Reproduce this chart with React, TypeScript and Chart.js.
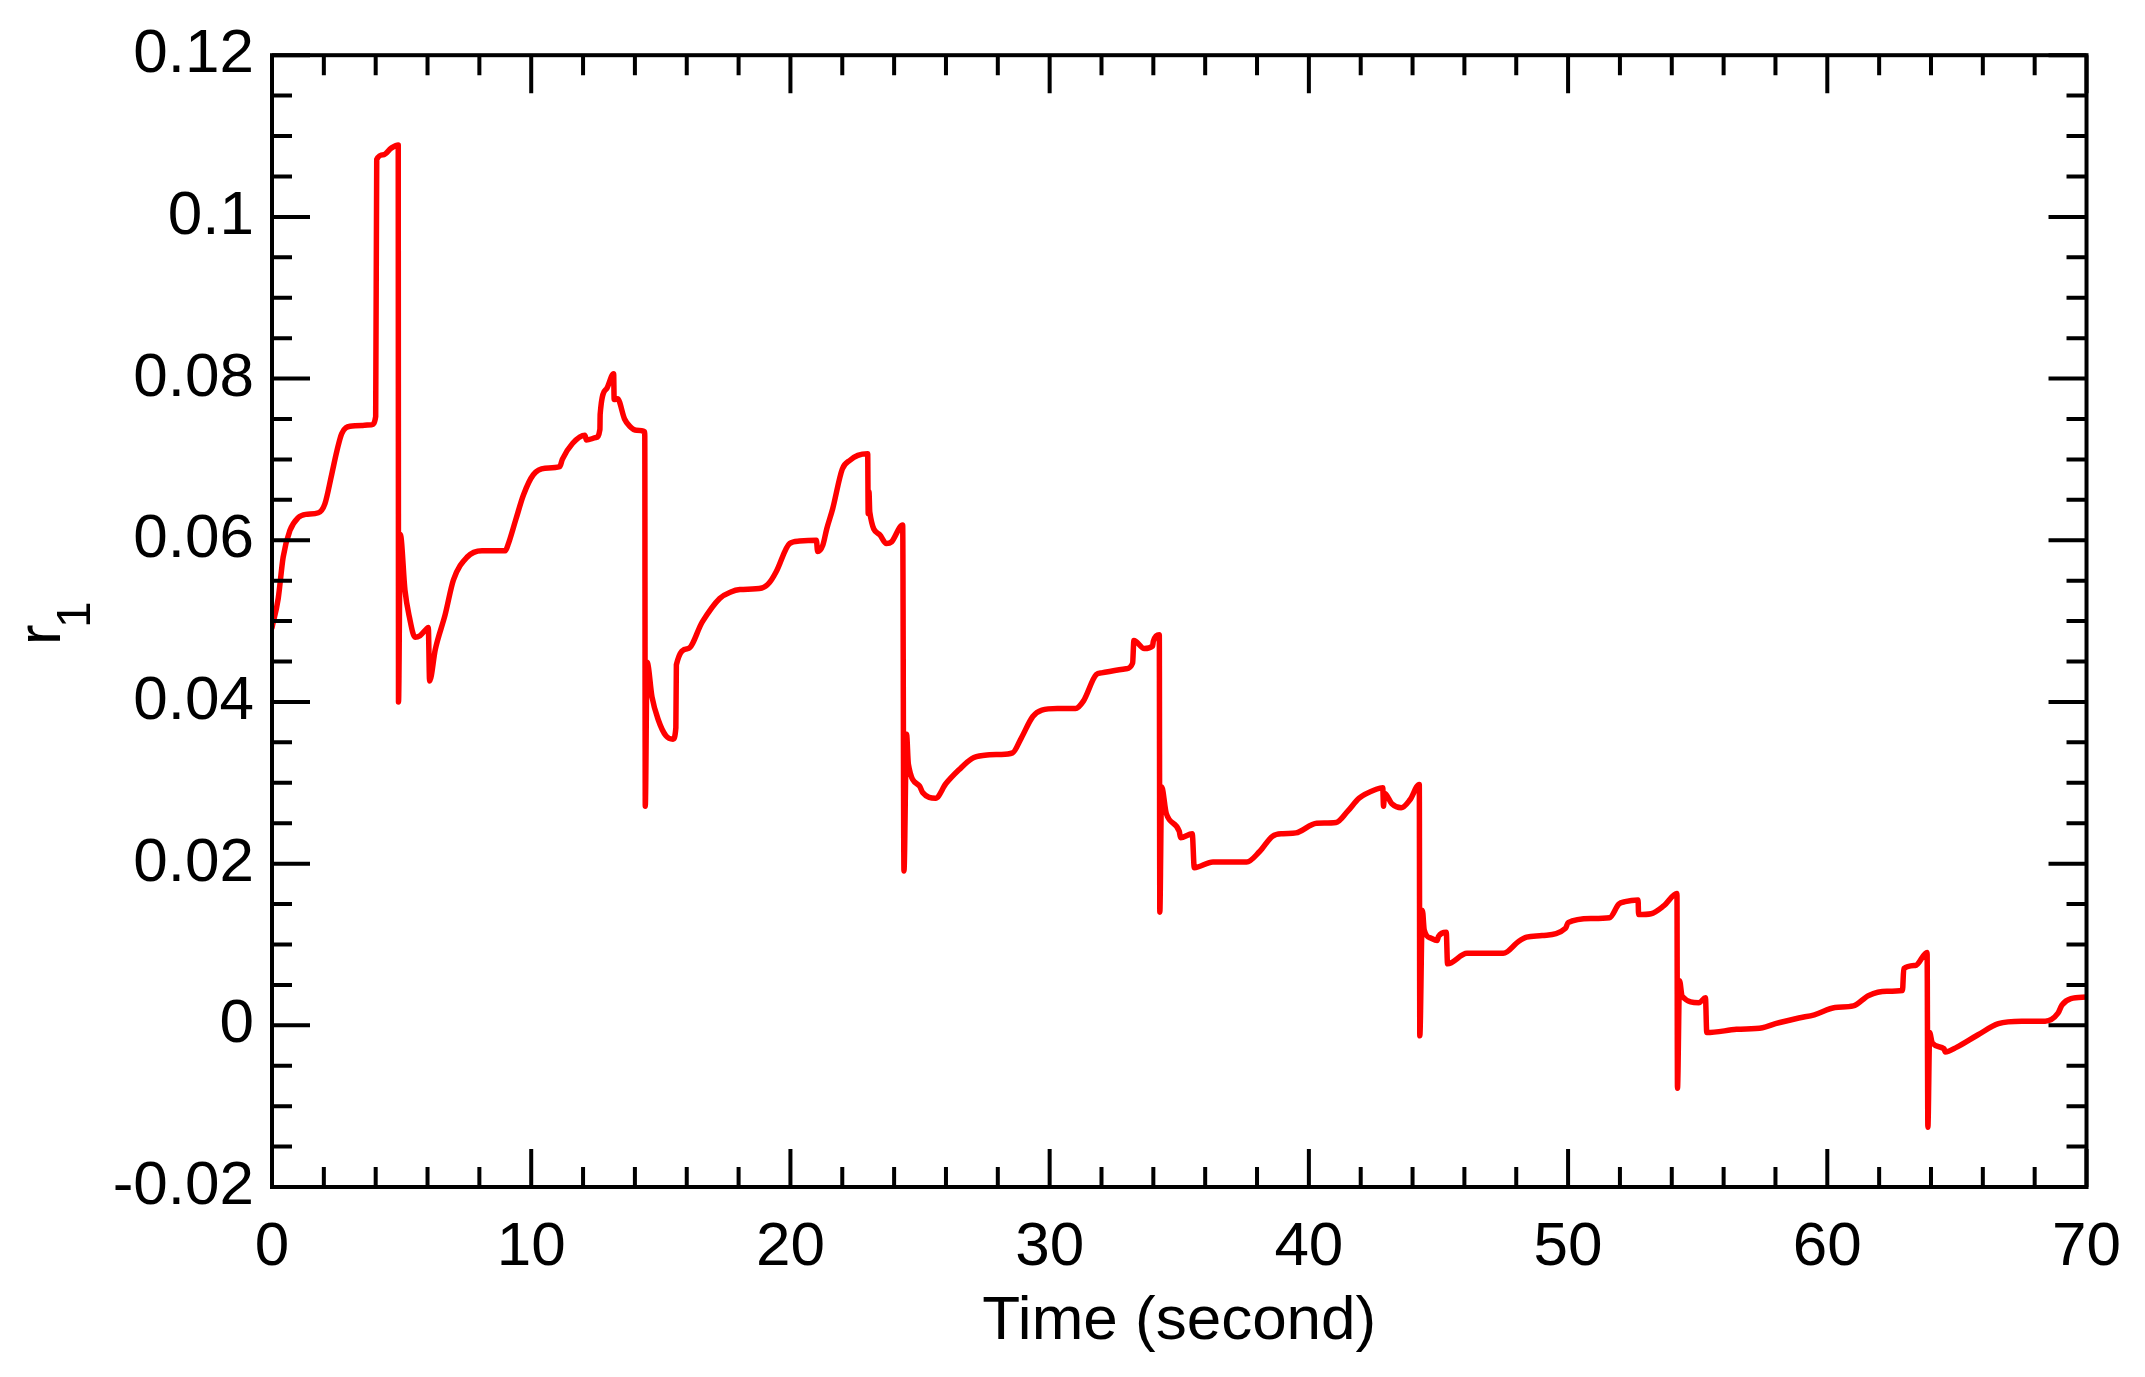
import React, { useEffect, useRef } from "react";
import { Chart, registerables } from "chart.js";

Chart.register(...registerables);

// ---- data (time in seconds, r1 values) ----
const time = [
  0, 0.24, 0.43, 0.69, 1.01, 1.3, 1.79, 2.04, 2.3, 2.5, 2.69, 3.01, 3.5, 3.85, 4.0,
  4.04, 4.3, 4.6, 4.87, 4.88, 4.95, 5.13, 5.3, 5.52, 5.71, 5.95, 6.03, 6.08, 6.3, 6.68,
  7.0, 7.52, 8.1, 9.0, 9.1, 9.4, 9.7, 10.08, 10.53, 11.1, 11.2, 11.6, 12.07, 12.13, 12.5,
  12.65, 12.66, 12.9, 13.18, 13.2, 13.33, 13.6, 13.8, 14.06, 14.38, 14.4, 14.47, 14.66, 14.9, 15.2,
  15.47, 15.58, 15.6, 16.05, 16.6, 17.27, 17.7, 18.05, 18.9, 19.2, 19.45, 19.97, 20.35, 21.0, 21.05,
  21.25, 21.4, 21.63, 22.0, 22.3, 22.6, 22.98, 23.0, 23.03, 23.06, 23.44, 23.7, 23.9, 24.33, 24.38,
  24.48, 24.55, 24.98, 25.1, 25.6, 26.0, 26.5, 27.0, 27.5, 28.07, 28.57, 28.9, 29.35, 29.7, 30.3,
  31.0, 31.3, 31.8, 32.0, 32.95, 33.2, 33.25, 33.65, 33.97, 34.0, 34.23, 34.25, 34.32, 34.5, 35.0,
  35.05, 35.5, 35.58, 36.3, 37.6, 38.1, 38.6, 39.0, 39.5, 40.3, 41.05, 41.5, 41.94, 42.6, 42.85,
  42.88, 42.92, 43.2, 43.56, 43.9, 44.26, 44.28, 44.38, 44.45, 44.7, 44.95, 45.0, 45.3, 45.35, 46.1,
  47.5, 48.1, 48.4, 49.0, 49.9, 50.0, 50.9, 51.6, 51.96, 52.2, 52.7, 52.72, 53.2, 53.7, 54.2,
  54.22, 54.3, 54.4, 55.05, 55.3, 55.35, 56.5, 57.5, 58.0, 58.9, 59.5, 60.3, 61.0, 61.6, 62.3,
  62.9, 62.95, 63.4, 63.85, 63.88, 63.95, 64.05, 64.5, 64.55, 65.0, 65.8, 66.6, 67.5, 68.4, 68.9,
  69.05, 69.4, 70.0,
];

const r1 = [
  0.0492, 0.0528, 0.0579, 0.0612, 0.0628, 0.0632, 0.0634, 0.0645, 0.0681, 0.071, 0.0732, 0.0741, 0.0742, 0.0743, 0.0753,
  0.1071, 0.1077, 0.1085, 0.1089, 0.04, 0.0607, 0.0538, 0.0505, 0.048, 0.0482, 0.049, 0.0492, 0.0426, 0.0465, 0.0508,
  0.0551, 0.0579, 0.0587, 0.0587, 0.0594, 0.0625, 0.0656, 0.0681, 0.0689, 0.0691, 0.07, 0.072, 0.073, 0.0724, 0.0727,
  0.0737, 0.0756, 0.0787, 0.0806, 0.0774, 0.0775, 0.075, 0.0741, 0.0736, 0.0734, 0.0271, 0.0449, 0.0406, 0.0378, 0.0358,
  0.0354, 0.0368, 0.0446, 0.0466, 0.0499, 0.0528, 0.0536, 0.0539, 0.0541, 0.0548, 0.0561, 0.0596, 0.0599, 0.06, 0.0586,
  0.0594, 0.0614, 0.0639, 0.0688, 0.0699, 0.0705, 0.0707, 0.0633, 0.066, 0.0635, 0.0607, 0.0596, 0.0598, 0.0619, 0.0191,
  0.036, 0.0323, 0.0296, 0.0288, 0.0281, 0.0299, 0.0316, 0.033, 0.0334, 0.0335, 0.0337, 0.0355, 0.0382, 0.039, 0.0392,
  0.0392, 0.0401, 0.0434, 0.0436, 0.0441, 0.0448, 0.0476, 0.0466, 0.0469, 0.0475, 0.0483, 0.014, 0.0295, 0.0262, 0.024,
  0.0232, 0.0237, 0.0195, 0.0202, 0.0202, 0.0215, 0.0234, 0.0237, 0.0238, 0.025, 0.0251, 0.0265, 0.0281, 0.0292, 0.0294,
  0.0271, 0.0287, 0.0274, 0.0269, 0.0279, 0.0298, -0.0013, 0.0142, 0.0118, 0.0108, 0.0105, 0.011, 0.0115, 0.0076, 0.0089,
  0.0089, 0.0104, 0.0109, 0.0111, 0.012, 0.0127, 0.0132, 0.0133, 0.015, 0.0153, 0.0155, 0.0137, 0.0138, 0.0148, 0.0163,
  -0.0078, 0.0055, 0.0036, 0.0028, 0.0034, -0.0009, -0.0005, -0.0003, 0.0002, 0.0009, 0.0013, 0.0022, 0.0024, 0.0037, 0.0042,
  0.0043, 0.007, 0.0074, 0.009, -0.0126, -0.0009, -0.0022, -0.0029, -0.0033, -0.0027, -0.0012, 0.0002, 0.0005, 0.0005, 0.0015,
  0.0025, 0.0033, 0.0035,
];

const xTickValues = [0, 10, 20, 30, 40, 50, 60, 70];
const xTickLabels = ["0", "10", "20", "30", "40", "50", "60", "70"];
const yTickValues = [-0.02, 0, 0.02, 0.04, 0.06, 0.08, 0.1, 0.12];
const yTickLabels = ["-0.02", "0", "0.02", "0.04", "0.06", "0.08", "0.1", "0.12"];
const xMinorTicks = [2, 4, 6, 8, 12, 14, 16, 18, 22, 24, 26, 28, 32, 34, 36, 38, 42, 44, 46, 48, 52, 54, 56, 58, 62, 64, 66, 68];
const yMinorTicks = [
  -0.015, -0.01, -0.005, 0.005, 0.01, 0.015, 0.025, 0.03, 0.035, 0.045, 0.05, 0.055,
  0.065, 0.07, 0.075, 0.085, 0.09, 0.095, 0.105, 0.11, 0.115,
];
const xTitle = "Time (second)";
const yTitleMain = "r";
const yTitleSub = "1";

const FONT = '"Liberation Sans", Arial, Helvetica, sans-serif';

const framePlugin = {
  id: "frame",
  afterDatasetsDraw(chart: any) {
    const { ctx, chartArea, scales } = chart;
    const { left, right, top, bottom } = chartArea;
    const xs = scales.x;
    const ys = scales.y;
    ctx.save();
    ctx.strokeStyle = "#000";
    ctx.lineWidth = 4;
    ctx.lineCap = "butt";
    ctx.beginPath();
    const majorLen = 38;
    const minorLen = 20;
    xTickValues.forEach((v) => {
      const px = xs.getPixelForValue(v);
      ctx.moveTo(px, bottom);
      ctx.lineTo(px, bottom - majorLen);
      ctx.moveTo(px, top);
      ctx.lineTo(px, top + majorLen);
    });
    xMinorTicks.forEach((v) => {
      const px = xs.getPixelForValue(v);
      ctx.moveTo(px, bottom);
      ctx.lineTo(px, bottom - minorLen);
      ctx.moveTo(px, top);
      ctx.lineTo(px, top + minorLen);
    });
    yTickValues.forEach((v) => {
      const py = ys.getPixelForValue(v);
      ctx.moveTo(left, py);
      ctx.lineTo(left + majorLen, py);
      ctx.moveTo(right, py);
      ctx.lineTo(right - majorLen, py);
    });
    yMinorTicks.forEach((v) => {
      const py = ys.getPixelForValue(v);
      ctx.moveTo(left, py);
      ctx.lineTo(left + minorLen, py);
      ctx.moveTo(right, py);
      ctx.lineTo(right - minorLen, py);
    });
    ctx.stroke();
    ctx.lineJoin = "miter";
    ctx.strokeRect(left, top, right - left, bottom - top);

    // y-axis title: r with subscript 1
    ctx.fillStyle = "#000";
    ctx.textBaseline = "alphabetic";
    ctx.textAlign = "left";
    const midY = (top + bottom) / 2;
    ctx.translate(60, midY + 24);
    ctx.rotate(-Math.PI / 2);
    ctx.font = `62px ${FONT}`;
    ctx.fillText(yTitleMain, 0, 0);
    ctx.font = `48px ${FONT}`;
    ctx.fillText(yTitleSub, 17, 30);
    ctx.restore();
  },
};

export default function App() {
  const canvasRef = useRef<HTMLCanvasElement | null>(null);

  useEffect(() => {
    const canvas = canvasRef.current;
    if (!canvas) return;
    const points = time.map((t, i) => ({ x: t, y: r1[i] }));
    const chart = new Chart(canvas, {
      type: "line",
      data: {
        datasets: [
          {
            data: points,
            borderColor: "#ff0000",
            backgroundColor: "#ff0000",
            borderWidth: 5.5,
            pointRadius: 0,
            cubicInterpolationMode: "monotone",
            borderJoinStyle: "round",
            borderCapStyle: "round",
            fill: false,
          },
        ],
      },
      options: {
        responsive: false,
        animation: false,
        devicePixelRatio: 1,
        layout: { padding: { left: 0, top: 52, right: 57, bottom: 0 } },
        plugins: {
          legend: { display: false },
          tooltip: { enabled: false },
        },
        scales: {
          x: {
            type: "linear",
            min: 0,
            max: 70,
            grid: { display: false, drawTicks: false },
            border: { display: false },
            afterBuildTicks: (scale: any) => {
              scale.ticks = xTickValues.map((v) => ({ value: v }));
            },
            afterFit: (scale: any) => {
              scale.height = 190;
            },
            ticks: {
              color: "#000",
              font: { family: FONT, size: 62 },
              padding: 24,
              maxRotation: 0,
              autoSkip: false,
              callback: (value: any) => {
                const i = xTickValues.findIndex((v) => Math.abs(v - Number(value)) < 1e-9);
                return i >= 0 ? xTickLabels[i] : "";
              },
            },
            title: {
              display: true,
              text: xTitle,
              color: "#000",
              font: { family: FONT, size: 62 },
              padding: { top: 0, bottom: 18 },
            },
          },
          y: {
            type: "linear",
            min: -0.02,
            max: 0.12,
            grid: { display: false, drawTicks: false },
            border: { display: false },
            afterBuildTicks: (scale: any) => {
              scale.ticks = yTickValues.map((v) => ({ value: v }));
            },
            afterFit: (scale: any) => {
              scale.width = 272;
            },
            ticks: {
              color: "#000",
              font: { family: FONT, size: 62 },
              padding: 18,
              autoSkip: false,
              callback: (value: any) => {
                const i = yTickValues.findIndex((v) => Math.abs(v - Number(value)) < 1e-9);
                return i >= 0 ? yTickLabels[i] : "";
              },
            },
          },
        },
      },
      plugins: [framePlugin],
    });
    return () => {
      chart.destroy();
    };
  }, []);

  return (
    <div style={{ position: "fixed", left: 0, top: 0, width: 2145, height: 1377, background: "#fff" }}>
      <canvas ref={canvasRef} width={2145} height={1377} style={{ display: "block", width: 2145, height: 1377 }} />
    </div>
  );
}
